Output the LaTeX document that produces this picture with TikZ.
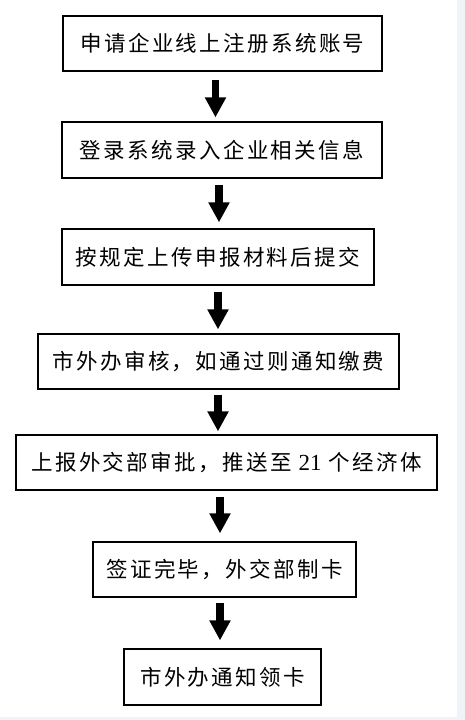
\documentclass[tikz,border=0pt]{standalone}
\usepackage{fontspec}
\setmainfont{Liberation Serif}
\newfontfamily\cjk[LetterSpace=11]{Noto Sans CJK SC}
\usetikzlibrary{arrows.meta}
\definecolor{pagegrey}{RGB}{240,243,247}
\tikzset{
  stepbox/.style={draw, line width=1.2pt, inner sep=0pt, minimum height=55pt,
    font=\cjk\fontsize{21.5}{24}\selectfont},
  bigarrow/.style={line width=7.5pt, -{Triangle[width=20pt,length=20pt]}}
}
\begin{document}
\begin{tikzpicture}[x=1pt, y=-1pt]
    % Page
    \fill[white] (0, 0) rectangle (465, 720);
    \fill[pagegrey] (457, 0) rectangle (465, 720);
    \fill[pagegrey] (0, 717) rectangle (465, 720);
    \useasboundingbox (0, 0) rectangle (465, 720);

    % Steps
    \node[stepbox, minimum width=319pt] (apply) at (222.5, 43.5) {申请企业线上注册系统账号};
    \node[stepbox, minimum width=320pt, minimum height=56pt] (login) at (222, 150) {登录系统录入企业相关信息};
    \node[stepbox, minimum width=312pt, minimum height=56pt] (upload) at (218, 257) {按规定上传申报材料后提交};
    \node[stepbox, minimum width=361pt] (review) at (218.5, 361.5) {市外办审核，如通过则通知缴费};
    \node[stepbox, minimum width=421pt] (report) at (226.5, 462.5)
      {上报外交部审批，推送至\hspace{7pt}{\rmfamily\fontsize{23}{24}\selectfont 21}\hspace{7pt}个经济体};
    \node[stepbox, minimum width=263pt] (issue) at (224.5, 569.5) {签证完毕，外交部制卡};
    \node[stepbox, minimum width=197pt, minimum height=56pt] (collect) at (222.5, 677) {市外办通知领卡};

    % Arrows
    \draw[bigarrow] ([xshift=-7pt, yshift=-8pt]apply.south) -- ([xshift=-6.5pt, yshift=4pt]login.north);
    \draw[bigarrow] ([xshift=-3pt, yshift=-6pt]login.south) -- ([xshift=1pt, yshift=6pt]upload.north);
    \draw[bigarrow] ([xshift=0pt, yshift=-6pt]upload.south) -- ([xshift=-0.5pt, yshift=4pt]review.north);
    \draw[bigarrow] ([xshift=-0.5pt, yshift=-5pt]review.south) -- ([xshift=-8.5pt, yshift=3pt]report.north);
    \draw[bigarrow] ([xshift=-6.5pt, yshift=-6pt]report.south) -- ([xshift=-4.5pt, yshift=8pt]issue.north);
    \draw[bigarrow] ([xshift=-4.5pt, yshift=-5pt]issue.south) -- ([xshift=-2.5pt, yshift=8pt]collect.north);
\end{tikzpicture}
\end{document}
